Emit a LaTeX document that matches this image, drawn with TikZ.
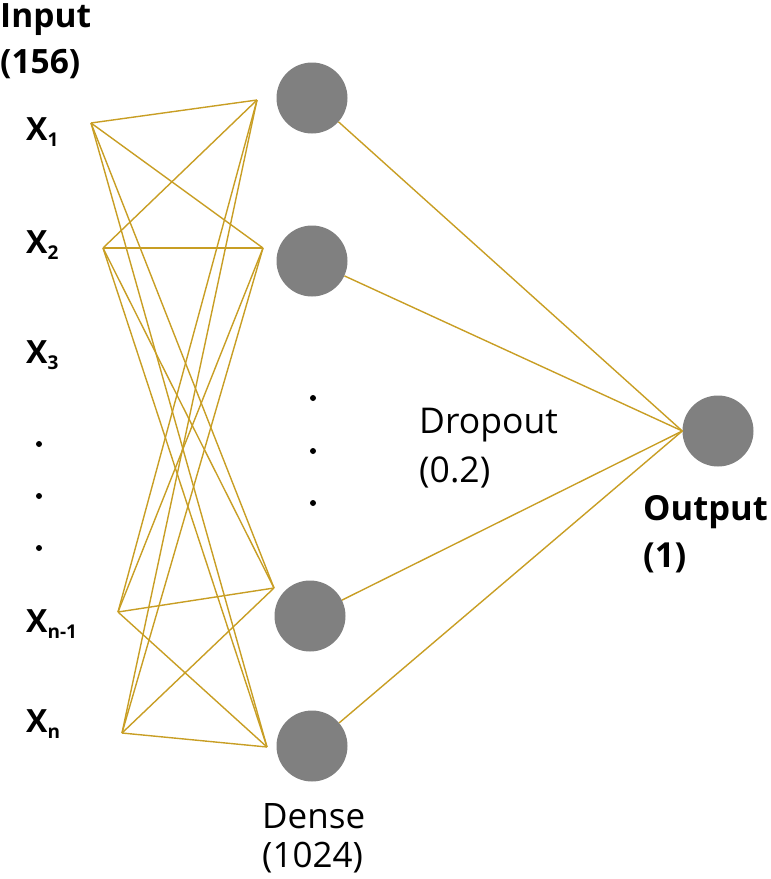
\documentclass[tikz,border=0pt]{standalone}
\usepackage{fontspec}
\setmainfont{Open Sans}
\definecolor{wire}{RGB}{200,158,36}
\definecolor{neuron}{RGB}{128,128,128}
\begin{document}
\begin{tikzpicture}[x=1pt,y=-1pt,
  unit/.style={circle,fill=neuron,draw=none,minimum size=71pt,inner sep=0},
  wirestyle/.style={draw=wire,line width=1.4pt},
  dotnode/.style={circle,fill=black,inner sep=0,minimum size=6pt},
  xlab/.style={anchor=base west,inner sep=0,font=\bfseries\fontsize{32}{38}\selectfont},
  lbl/.style={anchor=base west,inner sep=0,align=left}]
\useasboundingbox (0,0) rectangle (771,879);
\newcommand{\sbs}[1]{\raisebox{-6pt}{\fontsize{19}{20}\selectfont #1}}
% labels
\node[lbl,font=\bfseries\fontsize{33.5}{46}\selectfont] (inl) at (0,73) {Input\\(156)};
\node[xlab] (x1) at (26,140) {X\sbs{1}};
\node[xlab] (x2) at (26,253) {X\sbs{2}};
\node[xlab] (x3) at (26,363) {X\sbs{3}};
\node[xlab] (x4) at (26,632) {X\sbs{n-1}};
\node[xlab] (x5) at (26,732) {X\sbs{n}};
\node[dotnode] (ld1) at (39,444) {};
\node[dotnode] (ld2) at (39,496) {};
\node[dotnode] (ld3) at (39,548) {};
\node[dotnode] (rd1) at (313,398) {};
\node[dotnode] (rd2) at (313,451) {};
\node[dotnode] (rd3) at (313,503) {};
\node[lbl,font=\fontsize{35.5}{49}\selectfont] (drop) at (419,482) {Dropout\\(0.2)};
\node[lbl,font=\fontsize{35}{39}\selectfont] (dense) at (262,867) {Dense\\(1024)};
\node[lbl,font=\bfseries\fontsize{34.5}{47}\selectfont] (outl) at (643,567) {Output\\(1)};
% neurons
\node[unit] (h1) at (312,98) {};
\node[unit] (h2) at (312,261) {};
\node[unit] (h3) at (310,616) {};
\node[unit] (h4) at (312,746) {};
\node[unit] (o) at (718,431) {};
% wire ends
\coordinate (i1) at (91,123);
\coordinate (i2) at (103,248);
\coordinate (i3) at (118,612);
\coordinate (i4) at (122,733);
\coordinate (e1) at (257,100);
\coordinate (e2) at (263,248);
\coordinate (e3) at (274,588);
\coordinate (e4) at (267,747);
\foreach \i in {1,2,3,4}{
  \foreach \e in {1,2,3,4}{
    \draw[wirestyle] (i\i) -- (e\e);
  }
}
\foreach \h in {1,2,3,4}{
  \draw[wirestyle] (h\h) -- (o.west);
}
\end{tikzpicture}
\end{document}
